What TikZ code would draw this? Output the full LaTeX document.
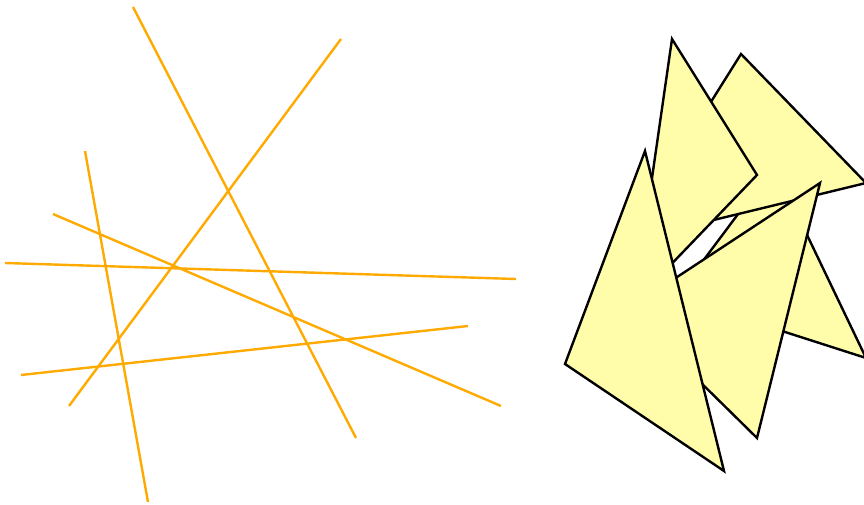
\documentclass[tikz,border=0pt]{standalone}
\usepackage[dvipsnames]{xcolor}
\definecolor{segc}{HTML}{FFAA00}
\definecolor{trif}{HTML}{FFFCAA}
\usepackage{tikz}
\tikzset{
  seg/.style={draw=segc,line width=2.4pt},
  tri/.style={draw=black,fill=trif,line width=2.4pt,line join=miter},
}
\begin{document}
\begin{tikzpicture}[x=1pt,y=-1pt]
\useasboundingbox (0,0) rectangle (864,505);
% line segments
\foreach \ax/\ay/\bx/\by in {133/7/356/438, 341/39/69/406, 85/151/148/502,
  53/214/501/406, 5/263/516/279, 21/375/468/326}
  \draw[seg] (\ax,\ay) -- (\bx,\by);
% triangles, back to front
\draw[tri] (774,166) -- (866,358) -- (676,297) -- cycle;
\draw[tri] (741,54) -- (866,183) -- (623,242) -- cycle;
\draw[tri] (672,39) -- (757,175) -- (634,303) -- cycle;
\draw[tri] (820,183) -- (757,438) -- (627,310) -- cycle;
\draw[tri] (645,151) -- (565,364) -- (724,471) -- cycle;
\end{tikzpicture}
\end{document}
